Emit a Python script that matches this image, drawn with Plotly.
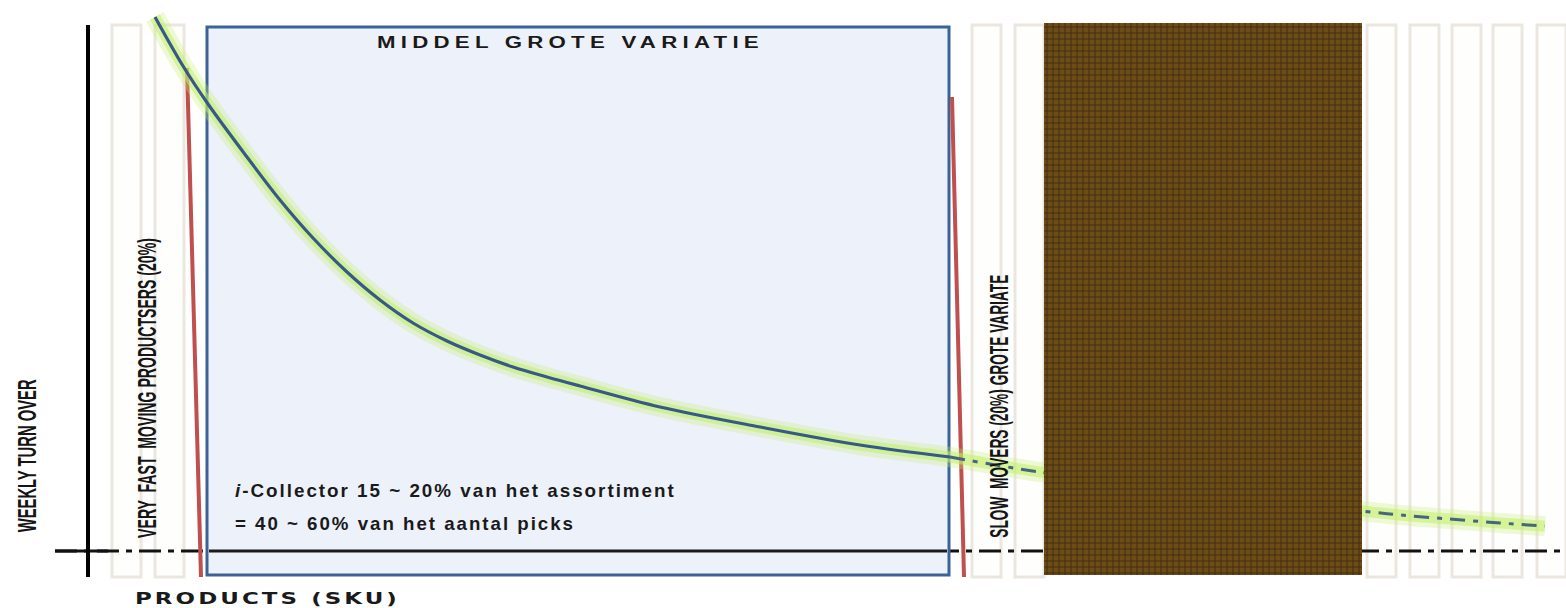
import plotly.graph_objects as go

# ---------------- data ----------------
# product position along the SKU axis and weekly turnover (baseline = 0)
sku_solid = [67, 95, 120, 159, 192, 225, 259, 292, 325, 359, 392, 425, 459, 492, 572, 672, 772, 862]
turnover_solid = [534, 485, 447, 394, 351, 313, 279, 251, 228, 210, 196, 184, 174, 165, 144, 124, 106, 94]
sku_tail = [862, 952, 1274, 1312, 1362, 1412, 1457]
turnover_tail = [94, 79, 40, 36, 32, 28, 25]

# product slots (left edges of the pale SKU columns that are visible)
slot_left = [24, 67, 884, 927, 1279, 1322, 1364, 1405, 1449]

texts_title = "MIDDEL GROTE VARIATIE"
text_y = "WEEKLY TURN OVER"
text_x = "PRODUCTS (SKU)"
text_fast = "VERY  FAST  MOVING PRODUCTSERS (20%)"
text_slow = "SLOW  MOVERS (20%) GROTE VARIATE"
text_ic1 = "<i>i</i>-Collector 15 ~ 20% van het assortiment"
text_ic2 = "= 40 ~ 60% van het aantal picks"

# ---------------- layout constants ----------------
X_RANGE = [-88, 1478]
Y_RANGE = [-57, 551]
SLOT_W = 29
SLOT_TOP, SLOT_BOT = 526, -26
BOX = dict(x0=119, x1=861, y0=-24, y1=524)
COVER_X = [956, 1274, 1274, 956, 956]
COVER_Y = [-24, -24, 528, 528, -24]
ARIAL = "Liberation Sans, Arial, sans-serif"

shapes = []
for xl in slot_left:
    shapes.append(dict(type="rect", layer="below", x0=xl, x1=xl + SLOT_W, y0=SLOT_BOT, y1=SLOT_TOP,
                       line=dict(color="#ebe7df", width=3), fillcolor="#fefefc"))
# dash-dot baseline
shapes.append(dict(type="line", layer="below", x0=-33, x1=1478, y0=0, y1=0,
                   line=dict(color="#111111", width=3, dash="22px,7px,6px,7px")))
shapes.append(dict(type="line", layer="below", x0=-33, x1=20, y0=0, y1=0,
                   line=dict(color="#111111", width=3)))
# vertical turnover axis
shapes.append(dict(type="line", layer="below", x0=0, x1=0, y0=-26, y1=526,
                   line=dict(color="#000000", width=4)))
# middle variation box
shapes.append(dict(type="rect", layer="below", **BOX,
                   line=dict(color="#3c6296", width=3), fillcolor="#edf1fa"))
shapes.append(dict(type="line", layer="below", x0=BOX["x0"] + 2, x1=BOX["x1"] - 2, y0=0, y1=0,
                   line=dict(color="#1a1a1a", width=3)))
# red separators
shapes.append(dict(type="line", layer="below", x0=99, x1=113, y0=483, y1=-26,
                   line=dict(color="#c0504d", width=4)))
shapes.append(dict(type="line", layer="below", x0=864, x1=876, y0=454, y1=-26,
                   line=dict(color="#c0504d", width=4)))

fig = go.Figure()
all_x = sku_solid + sku_tail[1:]
all_y = turnover_solid + turnover_tail[1:]
fig.add_trace(go.Scatter(x=all_x, y=all_y, mode="lines", hoverinfo="skip",
                         line=dict(color="rgba(200,240,120,0.30)", width=20, shape="spline", smoothing=1.0)))
fig.add_trace(go.Scatter(x=all_x, y=all_y, mode="lines", hoverinfo="skip",
                         line=dict(color="rgba(195,238,105,0.55)", width=11, shape="spline", smoothing=1.0)))
fig.add_trace(go.Scatter(x=sku_solid, y=turnover_solid, mode="lines", hoverinfo="skip",
                         line=dict(color="#36598a", width=3.2, shape="spline", smoothing=1.0)))
fig.add_trace(go.Scatter(x=sku_tail, y=turnover_tail, mode="lines", hoverinfo="skip",
                         line=dict(color="#46657f", width=3, shape="spline", smoothing=1.0,
                                   dash="15px,8px,5px,8px")))
# textured covering block (drawn on top of the curve)
fig.add_trace(go.Scatter(x=COVER_X, y=COVER_Y, mode="lines", fill="toself", hoverinfo="skip",
                         line=dict(width=0, color="rgba(0,0,0,0)"), fillcolor="#6e4c16",
                         fillpattern=dict(shape="+", fgcolor="#0d0d0d", bgcolor="#6e4c16",
                                          size=6, solidity=0.3)))

annotations = [
    dict(x=287, y=509, text="<b>" + texts_title + "</b>", xanchor="left", align="left", yanchor="middle",
         font=dict(family=ARIAL, size=17, color="#1a1a1a")),
    dict(x=-61, y=95, text="<b>" + text_y + "</b>", textangle=-90, xanchor="center", yanchor="middle",
         font=dict(family=ARIAL, size=25, color="#151515")),
    dict(x=59, y=163, text="<b>" + text_fast + "</b>", textangle=-90, xanchor="center", yanchor="middle",
         font=dict(family=ARIAL, size=25, color="#151515")),
    dict(x=911, y=145, text="<b>" + text_slow + "</b>", textangle=-90, xanchor="center", yanchor="middle",
         font=dict(family=ARIAL, size=25, color="#151515")),
    dict(x=145, y=61, text="<b>" + text_ic1 + "</b>", xanchor="left", align="left", yanchor="middle",
         font=dict(family=ARIAL, size=19, color="#1a1a1a")),
    dict(x=145, y=28, text="<b>" + text_ic2 + "</b>", xanchor="left", align="left", yanchor="middle",
         font=dict(family=ARIAL, size=19, color="#1a1a1a")),
    dict(x=45, y=-48, text="<b>" + text_x + "</b>", xanchor="left", align="left", yanchor="middle",
         font=dict(family="DejaVu Sans, sans-serif", size=15, color="#1a1a1a")),
]
for a in annotations:
    a.update(xref="x", yref="y", showarrow=False)

fig.update_layout(
    width=1566, height=608, autosize=False,
    margin=dict(l=0, r=0, t=0, b=0, pad=0),
    paper_bgcolor="white", plot_bgcolor="white",
    showlegend=False,
    shapes=shapes, annotations=annotations,
    xaxis=dict(range=X_RANGE, visible=False, fixedrange=True),
    yaxis=dict(range=Y_RANGE, visible=False, fixedrange=True),
)

post = """
document.body.style.margin = '0';
var gd = document.getElementById('{plot_id}');
var specs = [
  ['MIDDEL', '4px', 387, 'left'],
  ['PRODUCTS', '2px', 265, 'left'],
  ['WEEKLY', '0px', 153, 'center'],
  ['VERY', '0px', 300, 'center'],
  ['SLOW', '0px', 263, 'center'],
  ['i-Collector', '2px', 441, 'left'],
  ['= 40', '2px', 340, 'left']
];
gd.querySelectorAll('text.annotation-text').forEach(function(t){
  var s = (t.textContent || '').trim();
  for (var i = 0; i < specs.length; i++) {
    var p = specs[i];
    if (s.indexOf(p[0]) !== 0) continue;
    t.style.letterSpacing = p[1];
    var b = t.getBBox();
    if (!b.width) break;
    var sx = p[2] / b.width;
    var px = (p[3] === 'left') ? b.x : b.x + b.width / 2;
    var old = t.getAttribute('transform') || '';
    t.setAttribute('transform', old + ' translate(' + px + ',0) scale(' + sx + ',1) translate(' + (-px) + ',0)');
    break;
  }
});
"""
fig.write_html("out.html", post_script=post, config={"displayModeBar": False})
